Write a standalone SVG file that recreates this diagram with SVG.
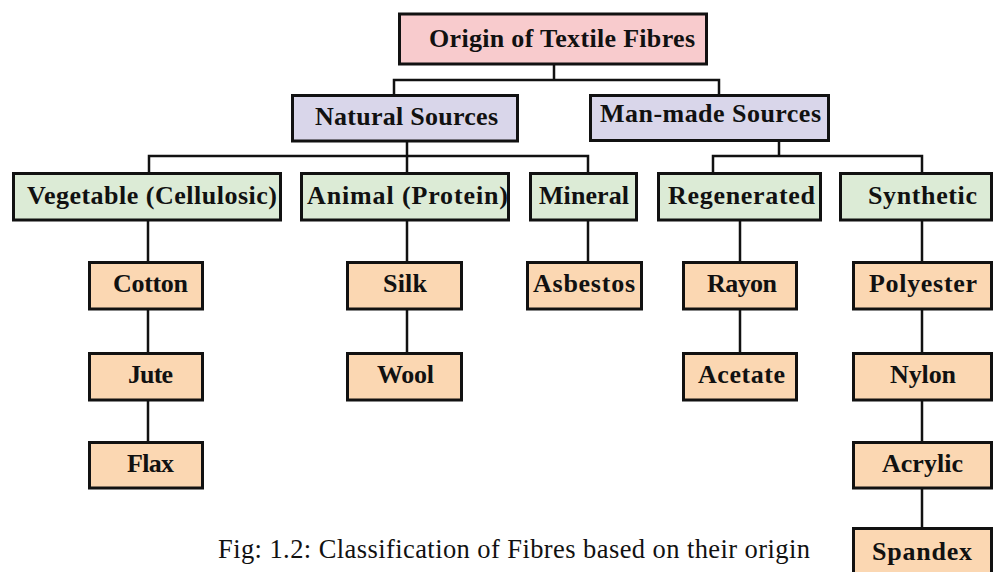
<svg xmlns="http://www.w3.org/2000/svg" width="994" height="572" viewBox="0 0 994 572">
<style>
.b{stroke:#111;stroke-width:3}
.o{fill:#f8cbcd}
.s{fill:#d9d6ea}
.g{fill:#dcebd6}
.p{fill:#fbd7b2}
.t{font-family:"Liberation Serif","Times New Roman",serif;font-weight:bold;font-size:26px;fill:#111}
.c{fill:none;stroke:#111;stroke-width:2.5}
.cap{font-family:"Liberation Serif","Times New Roman",serif;font-size:26.5px;fill:#111}
</style>
<rect width="994" height="572" fill="#fff"/>
<g id="connectors" class="c">
<path d="M554 65V80M394 95V80H719V95"/>
<path d="M407 142V173M149 173V156H588V173"/>
<path d="M779 141V156M713 173V156H922V173"/>
<path d="M148 221V262M148 310V353M148 401V442"/>
<path d="M407 221V262M407 310V353"/>
<path d="M588 221V262"/>
<path d="M740 221V262M740 310V353"/>
<path d="M922 221V262M922 310V353M922 401V442M922 489V528"/>
</g>
<g id="origin"><rect class="b o" x="399.5" y="14" width="307" height="50"/><text class="t" x="429" y="47" textLength="266">Origin of Textile Fibres</text></g>
<g id="natural"><rect class="b s" x="292.5" y="95.5" width="225" height="45.5"/><text class="t" x="315" y="125" textLength="183">Natural Sources</text></g>
<g id="manmade"><rect class="b s" x="590.5" y="95.5" width="238" height="45"/><text class="t" x="600" y="122" textLength="221">Man-made Sources</text></g>
<g id="vegetable"><rect class="b g" x="13.5" y="173.5" width="267" height="46.5"/><text class="t" x="27" y="204" textLength="250">Vegetable (Cellulosic)</text></g>
<g id="animal"><rect class="b g" x="301.5" y="173.5" width="207" height="46.5"/><text class="t" x="307" y="204" textLength="201">Animal (Protein)</text></g>
<g id="mineral"><rect class="b g" x="530.5" y="173.5" width="106" height="46.5"/><text class="t" x="539" y="204" textLength="90">Mineral</text></g>
<g id="regenerated"><rect class="b g" x="658.5" y="173.5" width="162" height="46.5"/><text class="t" x="668" y="204" textLength="147">Regenerated</text></g>
<g id="synthetic"><rect class="b g" x="840.5" y="173.5" width="151" height="46.5"/><text class="t" x="868" y="204" textLength="109">Synthetic</text></g>
<g id="cotton"><rect class="b p" x="89.5" y="262.5" width="113" height="46.5"/><text class="t" x="113" y="292" textLength="75">Cotton</text></g>
<g id="jute"><rect class="b p" x="89.5" y="353.5" width="113" height="46.5"/><text class="t" x="128" y="383" textLength="45">Jute</text></g>
<g id="flax"><rect class="b p" x="89.5" y="442.5" width="113" height="45.5"/><text class="t" x="127" y="472" textLength="47">Flax</text></g>
<g id="silk"><rect class="b p" x="347.5" y="262.5" width="114" height="46.5"/><text class="t" x="383" y="292" textLength="44">Silk</text></g>
<g id="wool"><rect class="b p" x="347.5" y="353.5" width="114" height="46.5"/><text class="t" x="377" y="383" textLength="57">Wool</text></g>
<g id="asbestos"><rect class="b p" x="527.5" y="262.5" width="114" height="46.5"/><text class="t" x="533" y="292" textLength="102">Asbestos</text></g>
<g id="rayon"><rect class="b p" x="683.5" y="262.5" width="113" height="46.5"/><text class="t" x="707" y="292" textLength="70">Rayon</text></g>
<g id="acetate"><rect class="b p" x="683.5" y="353.5" width="113" height="46.5"/><text class="t" x="698" y="383" textLength="87">Acetate</text></g>
<g id="polyester"><rect class="b p" x="853.5" y="262.5" width="138" height="46.5"/><text class="t" x="869" y="292" textLength="108">Polyester</text></g>
<g id="nylon"><rect class="b p" x="853.5" y="353.5" width="138" height="46.5"/><text class="t" x="890" y="383" textLength="66">Nylon</text></g>
<g id="acrylic"><rect class="b p" x="853.5" y="442.5" width="138" height="45.5"/><text class="t" x="882" y="472" textLength="81">Acrylic</text></g>
<g id="spandex"><rect class="b p" x="853.5" y="528.5" width="138" height="60"/><text class="t" x="872" y="560" textLength="100">Spandex</text></g>
<text class="cap" x="218" y="558" textLength="592">Fig: 1.2: Classification of Fibres based on their origin</text>
</svg>
